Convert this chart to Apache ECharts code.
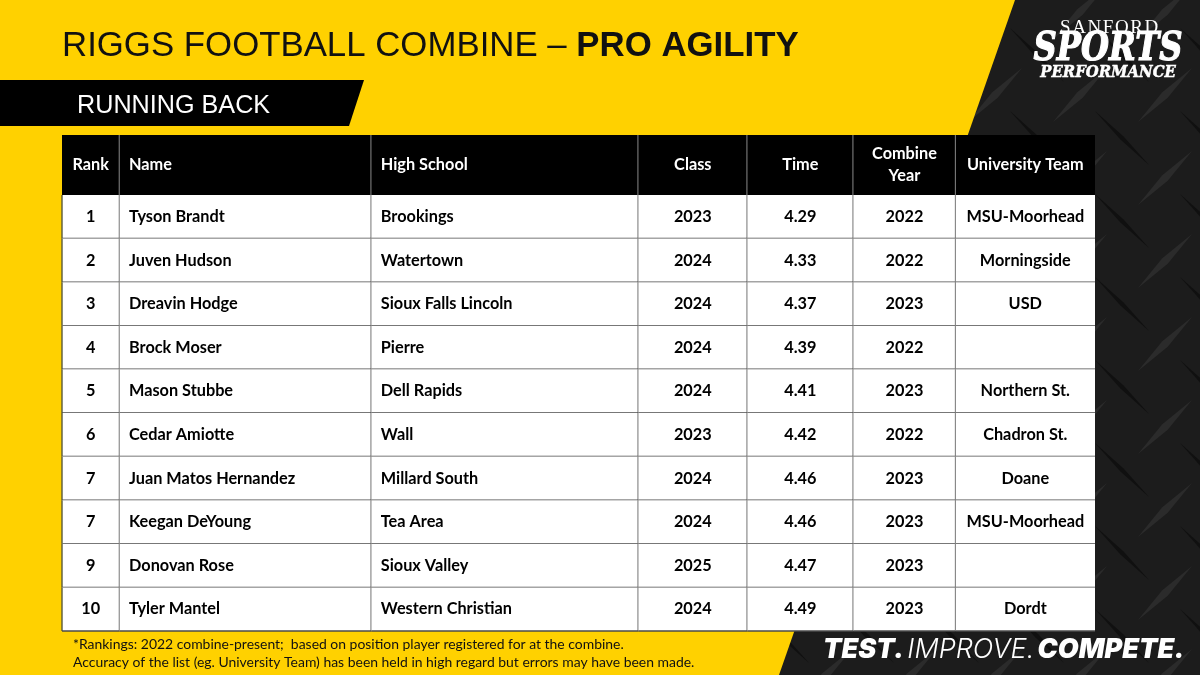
<!DOCTYPE html>
<html>
<head>
<meta charset="utf-8">
<title>Pro Agility - Running Back</title>
<script src="https://cdn.jsdelivr.net/npm/echarts@6/dist/echarts.min.js"></script>
<style>
html, body { margin: 0; padding: 0; background: #1b1b1b; }
#main { width: 1200px; height: 675px; }
</style>
</head>
<body>
<div id="main"></div>
<script>
// table content
const columnHeaders = ['Rank', 'Name', 'High School', 'Class', 'Time', 'Combine\nYear', 'University Team'];
const ranks = ['1', '2', '3', '4', '5', '6', '7', '7', '9', '10'];
const names = ['Tyson Brandt', 'Juven Hudson', 'Dreavin Hodge', 'Brock Moser', 'Mason Stubbe', 'Cedar Amiotte', 'Juan Matos Hernandez', 'Keegan DeYoung', 'Donovan Rose', 'Tyler Mantel'];
const highSchools = ['Brookings', 'Watertown', 'Sioux Falls Lincoln', 'Pierre', 'Dell Rapids', 'Wall', 'Millard South', 'Tea Area', 'Sioux Valley', 'Western Christian'];
const classes = ['2023', '2024', '2024', '2024', '2024', '2023', '2024', '2024', '2025', '2024'];
const times = ['4.29', '4.33', '4.37', '4.39', '4.41', '4.42', '4.46', '4.46', '4.47', '4.49'];
const combineYears = ['2022', '2022', '2023', '2022', '2023', '2022', '2023', '2023', '2023', '2023'];
const universityTeams = ['MSU-Moorhead', 'Morningside', 'USD', '', 'Northern St.', 'Chadron St.', 'Doane', 'MSU-Moorhead', '', 'Dordt'];

const tableColumns = [ranks, names, highSchools, classes, times, combineYears, universityTeams];

// column edges along the x axis, header spans y axis -1.375..0
const columnEdges = [0, 57.5, 309.3, 576.3, 685.3, 791.3, 893.6, 1033];
const leftAligned = [false, true, true, false, false, false, false];
const HEADER_TOP = -1.375;
const BODY_FONT = 'Lato, "Noto Sans", sans-serif';

// one entry per cell, header row is row -1
const cells = [];
const cellTexts = [];
columnHeaders.forEach(function (header, col) {
    cells.push([col, -1]);
    cellTexts.push(header);
    tableColumns[col].forEach(function (text, row) {
        cells.push([col, row]);
        cellTexts.push(text);
    });
});

function renderCell(params, api) {
    const col = api.value(0);
    const row = api.value(1);
    const isHeader = row === -1;
    const topLeft = api.coord([columnEdges[col], isHeader ? HEADER_TOP : row]);
    const bottomRight = api.coord([columnEdges[col + 1], isHeader ? 0 : row + 1]);
    const x1 = topLeft[0], y1 = topLeft[1], x2 = bottomRight[0], y2 = bottomRight[1];
    const left = leftAligned[col];
    const children = [
        {
            type: 'rect',
            shape: { x: x1, y: y1, width: x2 - x1, height: y2 - y1 },
            style: { fill: isHeader ? '#000000' : '#ffffff' }
        }
    ];
    if (col < columnEdges.length - 2) {
        children.push({
            type: 'line',
            shape: { x1: x2, y1: y1, x2: x2, y2: y2 },
            style: { stroke: isHeader ? '#c4c4c4' : '#3a3a3a', lineWidth: 1.4 }
        });
    }
    if (col === 0 && !isHeader) {
        children.push({
            type: 'line',
            shape: { x1: x1, y1: y1, x2: x1, y2: y2 },
            style: { stroke: '#5a5a3a', lineWidth: 1.4 }
        });
    }
    if (!isHeader) {
        children.push({
            type: 'line',
            shape: { x1: x1, y1: y2, x2: x2, y2: y2 },
            style: { stroke: '#4a4a4a', lineWidth: 1.5 }
        });
    }
    children.push({
        type: 'text',
        style: {
            x: left ? x1 + 9.5 : (x1 + x2) / 2,
            y: (y1 + y2) / 2,
            text: cellTexts[params.dataIndex],
            fill: isHeader ? '#ffffff' : '#000000',
            font: '700 16.3px ' + BODY_FONT,
            lineHeight: 22,
            align: left ? 'left' : 'center',
            verticalAlign: 'middle'
        }
    });
    return { type: 'group', children: children };
}

// diamond plate texture behind the yellow panel
function plateShapes() {
    const shapes = [];
    function spindle(cx, cy, dx, dy, fill, spread) {
        const nx = -dy * spread, ny = dx * spread;
        shapes.push({
            type: 'polygon',
            z: 1,
            shape: { points: [[cx - dx, cy - dy], [cx + nx, cy + ny], [cx + dx, cy + dy], [cx - nx, cy - ny]] },
            style: { fill: fill }
        });
    }
    for (let i = -1; i <= 5; i++) {
        for (let j = -1; j <= 8; j++) {
            const cx = 1165 - 85 * i;
            const cy = 95 + 83 * j;
            spindle(cx, cy, 27, -27, '#2b2b2b', 0.1);
            spindle(cx - 43, cy + 43, 27, 27, '#101010', 0.06);
        }
    }
    return shapes;
}

const chart = echarts.init(document.getElementById('main'));

chart.setOption({
    animation: false,
    backgroundColor: '#1c1c1c',
    grid: { left: 62, top: 135, width: 1033, height: 496, containLabel: false },
    xAxis: { type: 'value', min: 0, max: 1033, show: false },
    yAxis: { type: 'value', min: HEADER_TOP, max: 10, inverse: true, show: false },
    graphic: plateShapes().concat([
        {
            type: 'polygon',
            z: 2,
            shape: { points: [[0, 0], [1015, 0], [779, 675], [0, 675]] },
            style: { fill: '#ffd100' }
        },
        {
            type: 'polygon',
            z: 3,
            shape: { points: [[0, 80], [364, 80], [349, 126], [0, 126]] },
            style: { fill: '#000000' }
        },
        {
            type: 'text',
            z: 3,
            left: 62,
            top: 29,
            style: {
                text: '{a|RIGGS FOOTBALL COMBINE – }{b|PRO AGILITY}',
                rich: {
                    a: { font: '400 34.8px "Liberation Sans", Arial, sans-serif', fill: '#111111' },
                    b: { font: '700 34.8px "Liberation Sans", Arial, sans-serif', fill: '#111111' }
                }
            }
        },
        {
            type: 'text',
            z: 3,
            left: 77,
            top: 94,
            style: { text: 'RUNNING BACK', font: '400 25.2px "Liberation Sans", Arial, sans-serif', fill: '#ffffff' }
        },
        {
            type: 'text',
            z: 3,
            left: 73,
            top: 636,
            style: {
                text: '*Rankings: 2022 combine-present;  based on position player registered for at the combine.\nAccuracy of the list (eg. University Team) has been held in high regard but errors may have been made.',
                font: '400 13.95px ' + BODY_FONT,
                lineHeight: 18,
                fill: '#111111'
            }
        },
        {
            type: 'text',
            z: 3,
            left: 823,
            top: 636,
            style: {
                text: '{a|TEST.} {b|IMPROVE.} {a|COMPETE.}',
                rich: {
                    a: { font: 'italic 900 27px Inter, sans-serif', fill: '#ffffff' },
                    b: { font: 'italic 300 27px Inter, sans-serif', fill: '#ffffff' }
                }
            }
        },
        {
            type: 'text',
            z: 3,
            left: 1060,
            top: 19,
            style: { text: 'S\u200AA\u200AN\u200AF\u200AO\u200AR\u200AD', font: '400 19px "Liberation Serif", serif', fill: '#ffffff' }
        },
        {
            type: 'text',
            z: 3,
            left: 1033,
            top: 29,
            scaleX: 0.805,
            style: { text: 'SPORTS', font: 'bold italic 40px "DejaVu Serif", serif', fill: '#ffffff', stroke: '#ffffff', lineWidth: 1.2 }
        },
        {
            type: 'text',
            z: 3,
            left: 1040,
            top: 65,
            scaleX: 0.93,
            style: { text: 'PERFORMANCE', font: 'bold italic 16px "DejaVu Serif", serif', fill: '#ffffff', stroke: '#ffffff', lineWidth: 0.5 }
        }
    ]),
    series: [
        {
            type: 'custom',
            coordinateSystem: 'cartesian2d',
            renderItem: renderCell,
            data: cells,
            silent: true,
            clip: false,
            z: 5
        }
    ]
});

window.addEventListener('resize', function () {
    chart.resize();
});
</script>
</body>
</html>
